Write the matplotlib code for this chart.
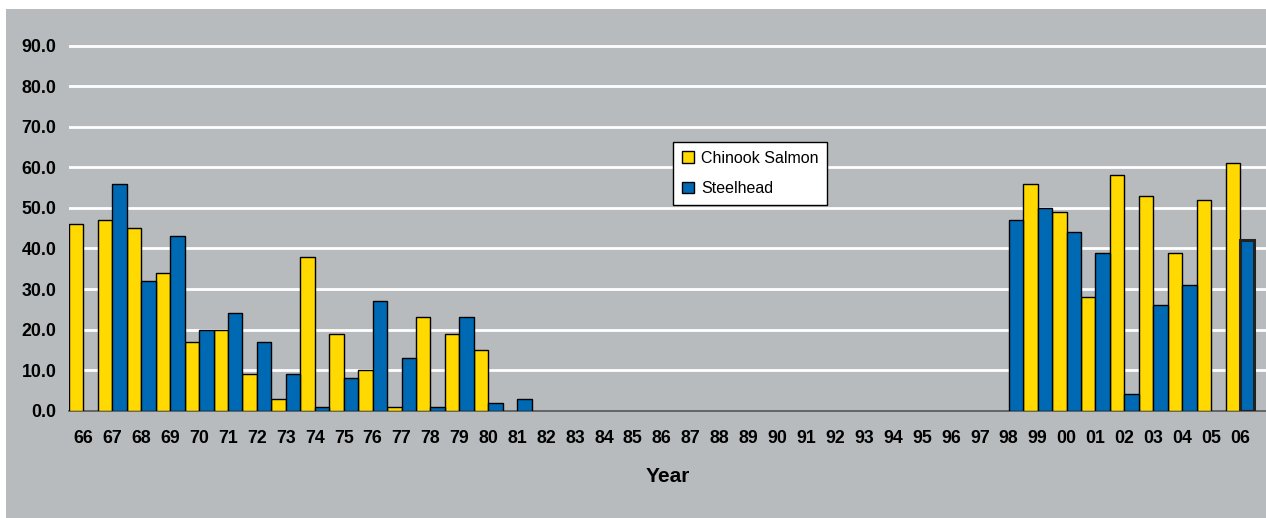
import numpy as np
import matplotlib
matplotlib.use("Agg")
import matplotlib.pyplot as plt
from matplotlib.patches import Rectangle

plt.rcParams['font.family'] = ['Liberation Sans', 'DejaVu Sans']

years = ['66', '67', '68', '69', '70', '71', '72', '73', '74', '75', '76', '77', '78', '79',
         '80', '81', '82', '83', '84', '85', '86', '87', '88', '89', '90', '91', '92', '93',
         '94', '95', '96', '97', '98', '99', '00', '01', '02', '03', '04', '05', '06']

chinook = [46, 47, 45, 34, 17, 20, 9, 3, 38, 19, 10, 1, 23, 19,
           15, 0, 0, 0, 0, 0, 0, 0, 0, 0, 0, 0, 0, 0,
           0, 0, 0, 0, 0, 56, 49, 28, 58, 53, 39, 52, 61]

steelhead = [0, 56, 32, 43, 20, 24, 17, 9, 1, 8, 27, 13, 1, 23,
             2, 3, 0, 0, 0, 0, 0, 0, 0, 0, 0, 0, 0, 0,
             0, 0, 0, 0, 47, 50, 44, 39, 4, 26, 31, 0, 42]

bg = '#b7bbbd'
yellow = '#ffd900'
blue = '#0069b4'

W, H = 1266, 518
fig = plt.figure(figsize=(W / 100, H / 100), dpi=100, facecolor='white')
fig.patches.append(Rectangle((6 / W, -0.02), 1.02 - 6 / W, (H - 9) / H + 0.02,
                             transform=fig.transFigure,
                             facecolor=bg, edgecolor='none', zorder=-10))

ax = fig.add_axes([69 / W, (H - 410.7) / H, (W - 69) / W, 401.7 / H])
ax.patch.set_visible(False)

x = np.arange(len(years))
ch = np.array(chinook, dtype=float)
st = np.array(steelhead, dtype=float)
ch[ch == 0] = np.nan
st[st == 0] = np.nan

ax.bar(x - 0.25, ch, width=0.5, color=yellow, edgecolor='black', linewidth=1,
       label='Chinook Salmon', zorder=3)
bars = ax.bar(x + 0.25, st, width=0.5, color=blue, edgecolor='black', linewidth=1,
              label='Steelhead', zorder=3)
bars[-1].set_linewidth(2.2)
bars[-1].set_edgecolor('#222222')

ax.set_xlim(-0.5, 40.9)
ax.set_ylim(0, 99.04)
ax.set_yticks(np.arange(0, 91, 10))
ax.set_yticklabels([f'{v:.1f}' for v in np.arange(0, 91, 10)], fontsize=12.8, fontweight='bold')
ax.set_xticks(x)
ax.set_xticklabels(years, fontsize=12.8, fontweight='bold')
ax.tick_params(axis='x', length=0, pad=14)
ax.tick_params(axis='y', length=0, pad=9)

for v in np.arange(10, 91, 10):
    ax.axhline(v, color='white', linewidth=2.0, zorder=1)

for s in ['top', 'right', 'left']:
    ax.spines[s].set_visible(False)
ax.spines['bottom'].set_color('#555555')
ax.spines['bottom'].set_linewidth(1.2)
ax.spines['bottom'].set_zorder(2)

ax.set_xlabel('Year', fontsize=15, fontweight='bold', labelpad=14)

leg = ax.legend(loc='upper left', bbox_to_anchor=(0.5046, 0.669), borderaxespad=0,
                fontsize=11.5, frameon=True, fancybox=False, framealpha=1,
                edgecolor='black', handlelength=0.75, handleheight=0.75,
                handletextpad=0.45, labelspacing=0.95, borderpad=0.55)
leg.get_frame().set_linewidth(1)

fig.savefig('out.png', dpi=100, facecolor='white')
